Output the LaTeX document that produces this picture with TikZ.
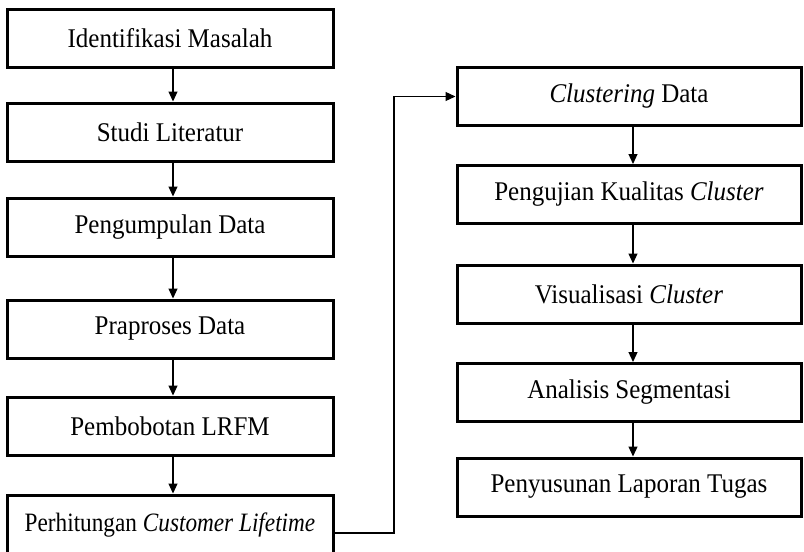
\documentclass[tikz,border=0pt]{standalone}
\usepackage{fontspec}
\setmainfont{Liberation Serif}
\usetikzlibrary{arrows.meta}
\newcommand{\tallt}[1]{\scalebox{1}[1.08]{#1}}
\begin{document}
\begin{tikzpicture}[x=1pt,y=-1pt,
  box/.style={draw, line width=3pt, rectangle, inner sep=0pt,
    font=\fontsize{25}{29}\selectfont},
  lbox/.style={box, minimum width=326pt, minimum height=58pt},
  rbox/.style={box, minimum width=344pt, minimum height=58pt},
  flow/.style={line width=1.2pt, -{Triangle[length=10pt,width=9pt]}}]
\clip (0,0) rectangle (804,552);
\fill[white] (0,0) rectangle (804,552);
% left column
\node[lbox] (l1) at (170,38) {\tallt{Identifikasi Masalah}};
\node[lbox] (l2) at (170,132) {\tallt{Studi Literatur}};
\node[lbox] (l3) at (170,227) {\tallt{Pengumpulan Data}};
\node[lbox] (l4) at (170,329) {\tallt{Praproses Data}};
\node[lbox] (l5) at (170,426) {\tallt{Pembobotan LRFM}};
\node[lbox, minimum height=60pt] (l6) at (170,525) {\scalebox{0.93}[1.06]{Perhitungan \textit{Customer Lifetime}}};
% right column
\node[rbox] (r1) at (629,96.5) {\tallt{\textit{Clustering} Data}};
\node[rbox] (r2) at (629,194.5) {\tallt{Pengujian Kualitas \textit{Cluster}}};
\node[rbox] (r3) at (629,294) {\tallt{Visualisasi \textit{Cluster}}};
\node[rbox] (r4) at (629,392.5) {\tallt{Analisis Segmentasi}};
\node[rbox] (r5) at (629,487) {\tallt{Penyusunan Laporan Tugas}};
% arrows
\coordinate (lx) at (173,0);
\coordinate (rx) at (633,0);
\foreach \a/\b in {l1/l2,l2/l3,l3/l4,l4/l5,l5/l6}
  \draw[flow] (\a.south -| lx) -- (\b.north -| lx);
\foreach \a/\b in {r1/r2,r2/r3,r3/r4,r4/r5}
  \draw[flow] (\a.south -| rx) -- (\b.north -| rx);
\coordinate (c1) at (394,533);
\coordinate (c2) at (394,96.5);
\draw[flow] (l6.east |- c1) -- (c1) -- (c2) -- (r1.west);
\end{tikzpicture}
\end{document}
